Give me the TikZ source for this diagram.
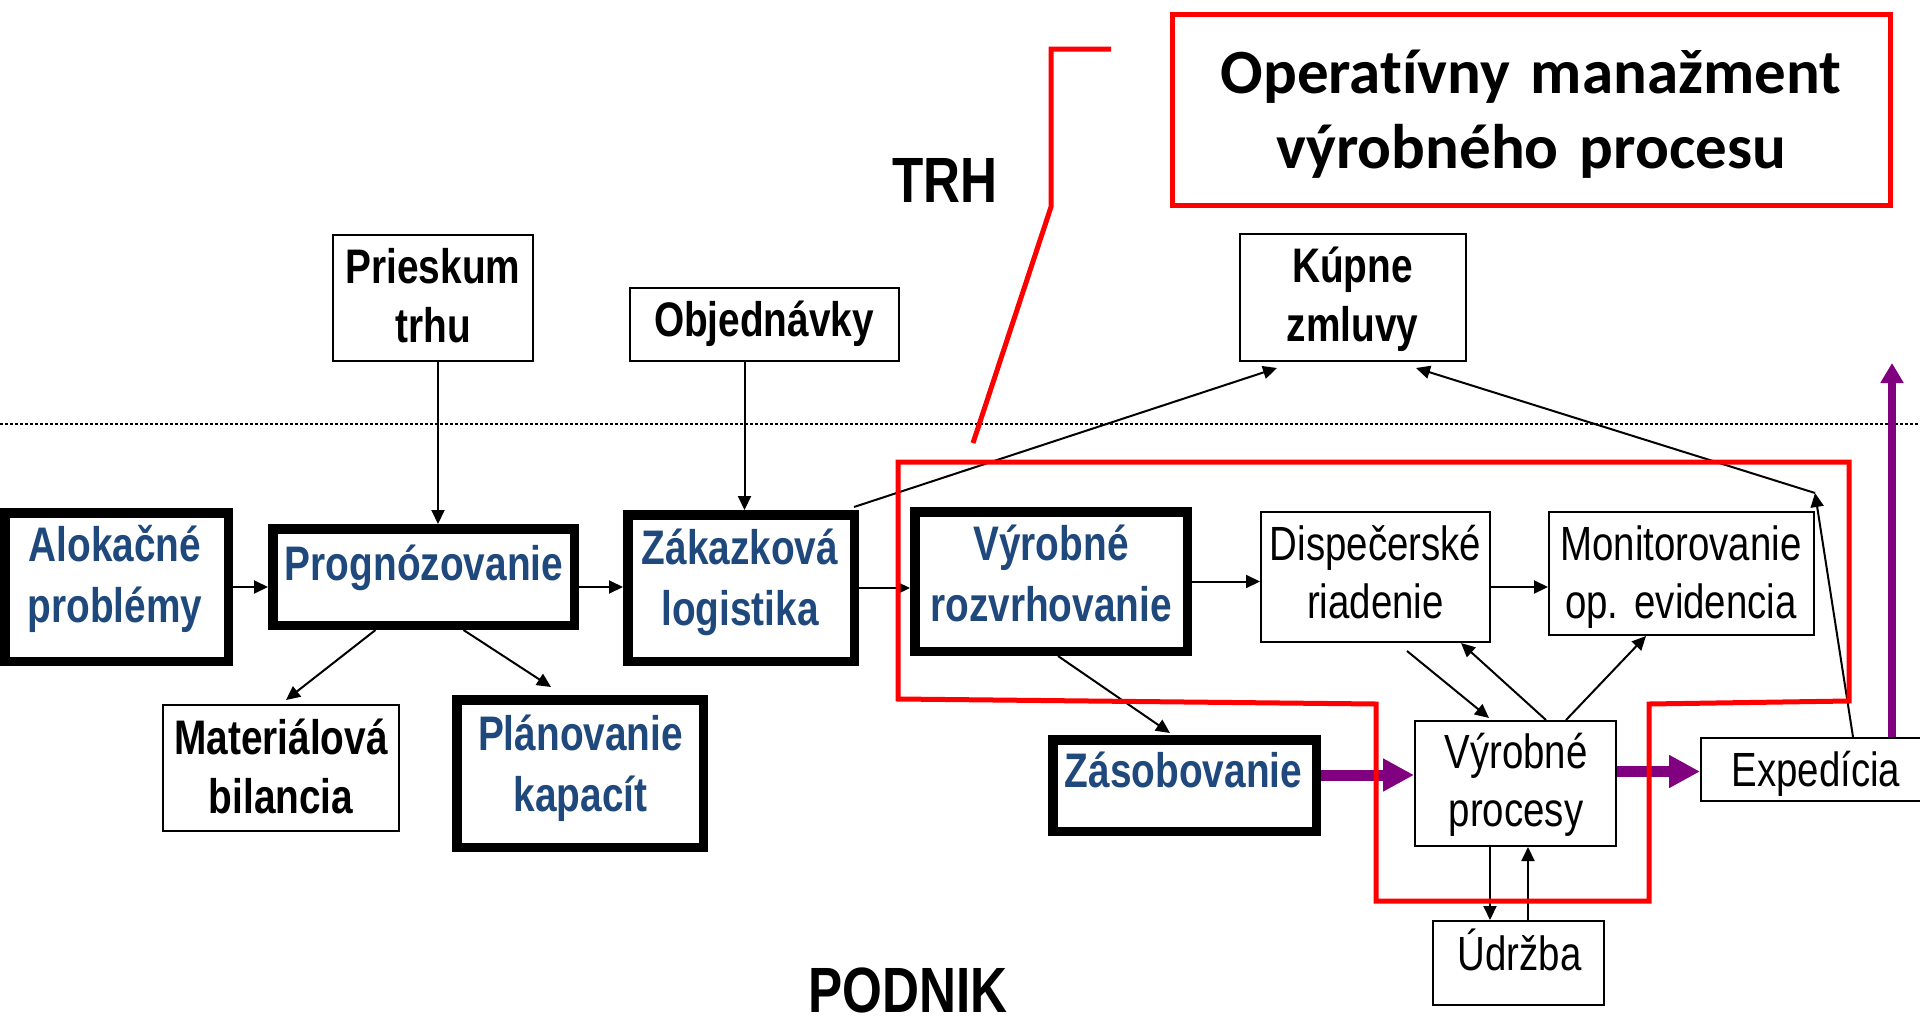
\documentclass[tikz,border=0pt]{standalone}
\usepackage{fontspec}
\setmainfont{Liberation Sans}
\newfontfamily\narrowsans[FakeStretch=0.8]{Liberation Sans}
\newfontfamily\titlefont[RawFeature={-liga;-clig;-dlig}]{Carlito}
\usetikzlibrary{arrows.meta,calc}
\definecolor{boxblue}{RGB}{31,73,125}
\definecolor{flowpurple}{RGB}{128,0,128}
\definecolor{framered}{RGB}{255,0,0}

\begin{document}
\begin{tikzpicture}[x=1pt,y=-1pt,
  every node/.style={inner sep=0pt},
  thinbox/.style={draw, line width=2pt},
  heavybox/.style={draw, line width=9.5pt},
  bluetxt/.style={anchor=base, text width=330pt, align=center, text=boxblue,
    font=\narrowsans\bfseries\fontsize{48.5}{61}\selectfont},
  blacktxt/.style={anchor=base, text width=330pt, align=center,
    font=\narrowsans\bfseries\fontsize{48.5}{59}\selectfont},
  plaintxt/.style={anchor=base, text width=330pt, align=center,
    font=\narrowsans\fontsize{48}{58}\selectfont},
  bigtxt/.style={anchor=base, text depth=0pt, font=\narrowsans\bfseries\fontsize{64}{70}\selectfont},
  arr/.style={line width=2pt, -{Triangle[length=14pt,width=13pt]}},
  fat/.style={draw=flowpurple, line width=11pt, -{Triangle[length=31pt,width=31pt]}},
  tall/.style={draw=flowpurple, line width=8pt, -{Triangle[length=20pt,width=22pt]}},
  redline/.style={draw=framered, line width=5pt, line join=miter}
]
\useasboundingbox[fill=white] (0,0) rectangle (1920,1020);

% market / company boundary
\draw[dash pattern=on 3pt off 2pt, line width=1.2pt] (0,424) -- (1920,424);

% region labels
\node[bigtxt] (trh) at (945,202) {TRH};
\node[bigtxt] (podnik) at (908,1012) {PODNIK};

% boxes
\node[heavybox, minimum width=223.5pt, minimum height=148.5pt] (alok) at (116.5,587) {};
\node[heavybox, minimum width=301.5pt, minimum height=96.5pt] (prog) at (423.5,577) {};
\node[heavybox, minimum width=226.5pt, minimum height=146.5pt] (zak) at (741,588) {};
\node[heavybox, minimum width=246.5pt, minimum height=147.5pt] (plan) at (580,773.5) {};
\node[heavybox, minimum width=272.5pt, minimum height=139.5pt] (vyrr) at (1051,581.5) {};
\node[heavybox, minimum width=263.5pt, minimum height=91.5pt] (zas) at (1184.5,785.5) {};

\node[thinbox, minimum width=200pt, minimum height=126pt] (prie) at (433,298) {};
\node[thinbox, minimum width=269pt, minimum height=73pt] (obj) at (764.5,324.5) {};
\node[thinbox, minimum width=236pt, minimum height=126pt] (mat) at (281,768) {};
\node[thinbox, minimum width=226pt, minimum height=127pt] (kup) at (1353,297.5) {};
\node[thinbox, minimum width=229pt, minimum height=130pt] (disp) at (1375.5,577) {};
\node[thinbox, minimum width=265pt, minimum height=123pt] (mon) at (1681.5,573.5) {};
\node[thinbox, minimum width=201pt, minimum height=125pt] (vyrp) at (1515.5,783.5) {};
\node[thinbox, minimum width=228pt, minimum height=63pt] (exp) at (1815,769.5) {};
\node[thinbox, minimum width=171pt, minimum height=84pt] (udr) at (1518.5,963) {};

% box texts
\node[bluetxt] (alokt) at (115,561) {Alokačné\\problémy};
\node[bluetxt] (progt) at (424,580) {Prognózovanie};
\node[bluetxt] (zakt) at (740,564) {Zákazková\\logistika};
\node[bluetxt] (plant) at (580.5,750) {Plánovanie\\kapacít};
\node[bluetxt] (vyrrt) at (1051,560) {Výrobné\\rozvrhovanie};
\node[bluetxt] (zast) at (1183.5,787) {Zásobovanie};

\node[blacktxt] (priet) at (433,283) {Prieskum\\trhu};
\node[blacktxt] (objt) at (764,336) {Objednávky};
\node[blacktxt] (matt) at (281,754) {Materiálová\\bilancia};
\node[blacktxt] (kupt) at (1352.5,282) {Kúpne\\zmluvy};

\node[plaintxt] (dispt) at (1375.5,560) {Dispečerské\\riadenie};
\node[plaintxt] (mont) at (1681,560) {Monitorovanie\\op.\ evidencia};
\node[plaintxt] (vyrpt) at (1516,768) {Výrobné\\procesy};
\node[plaintxt] (expt) at (1816,786) {Expedícia};
\node[plaintxt] (udrt) at (1519.5,970.5) {Údržba};

% title box
\node[draw=framered, line width=5pt, minimum width=718pt, minimum height=191pt] (opbox) at (1531.5,110) {};
\node[anchor=base, text width=720pt, align=center,
      font=\titlefont\bfseries\fontsize{63}{75}\selectfont] (optext) at (1531,93)
      {Operatívny manažment\\výrobného procesu};

% information flows
\draw[arr] ([xshift=5pt]prie.south) -- ([xshift=5pt]prie.south |- prog.north);
\draw[arr] ([xshift=-20pt]obj.south) -- ([xshift=-20pt]obj.south |- zak.north);
\draw[arr] (alok.east) -- (alok.east -| prog.west);
\draw[arr] ([yshift=-10pt]prog.east) -- ([yshift=-10pt]prog.east -| zak.west);
\draw[arr] (zak.east) -- (zak.east -| vyrr.west);
\draw[arr] ([xshift=-48pt]prog.south) -- ([xshift=5pt,yshift=4pt]mat.north);
\draw[arr] ([xshift=40pt]prog.south) -- ([xshift=-29pt,yshift=8pt]plan.north);
\draw[arr] ([xshift=-5pt,yshift=3pt]zak.north east) -- ([xshift=-76pt,yshift=-6pt]kup.south);
\coordinate (kpt) at (1815,493);
\draw[arr] ([xshift=38pt]exp.north) -- (kpt);
\draw[arr] (kpt) -- ([xshift=63pt,yshift=-6pt]kup.south);
\draw[arr] (vyrr.east) -- (vyrr.east -| disp.west);
\draw[arr] ([yshift=-10pt]disp.east) -- ([yshift=-10pt]disp.east -| mon.west);
\draw[arr] ([xshift=7pt]vyrr.south) -- ([xshift=-14.5pt,yshift=2pt]zas.north);
\draw[arr] ([xshift=31.5pt,yshift=-8pt]disp.south) -- ([xshift=-26.5pt,yshift=2pt]vyrp.north);
\draw[arr] ([xshift=30.5pt]vyrp.north) -- ([xshift=85.5pt]disp.south);
\draw[arr] ([xshift=50.5pt]vyrp.north) -- ([xshift=-35.5pt]mon.south);
\draw[arr] ([xshift=-25.5pt]vyrp.south) -- ([xshift=-25.5pt]vyrp.south |- udr.north);
\draw[arr] ([xshift=9.5pt]udr.north) -- ([xshift=9.5pt]udr.north |- vyrp.south);

% material flows
\draw[fat] ([yshift=10.5pt]zas.east) -- ([yshift=10.5pt]zas.east -| vyrp.west);
\draw[fat] ([yshift=12pt]vyrp.east) -- ([yshift=12pt]vyrp.east -| exp.west);
\coordinate (mkt) at (1892,363);
\draw[tall] ([xshift=77pt]exp.north) -- (mkt);

% operative management region and its callout
\draw[redline] (898,462) -- (1849,462) -- (1849,701) -- (1649,704) -- (1649,901)
  -- (1376,901) -- (1376,704) -- (898,699) -- cycle;
\draw[redline] (1111,49) -- (1051,49) -- (1051,207) -- (973,443);
\end{tikzpicture}
\end{document}
